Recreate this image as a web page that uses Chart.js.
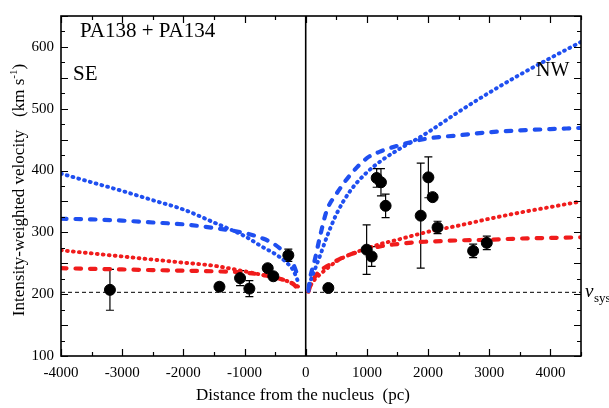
<!DOCTYPE html>
<html>
<head>
<meta charset="utf-8">
<script src="https://cdn.jsdelivr.net/npm/chart.js@4"></script>
<style>
  body { margin: 0; background: #fff; }
  #wrap { width: 609px; height: 408px; }
</style>
</head>
<body>
<div id="wrap"><canvas id="chart" width="609" height="408"></canvas></div>
<script>
// ticks
const xTicks = [-4000, -3000, -2000, -1000, 0, 1000, 2000, 3000, 4000];
const yTicks = [100, 200, 300, 400, 500, 600];

// observed points (pc, km/s) and their errors
const obsX   = [-3200, -1410, -1073, -921, -621, -529, -284, 370, 996, 1078, 1160, 1230, 1306, 1880, 2005, 2075, 2155, 2737, 2960];
const obsY   = [207, 212, 226, 209, 242, 229, 263, 210, 272, 261, 388, 381, 343, 327, 389, 357, 308, 270, 283];
const obsErr = [33, 6, 12, 13, 4, 0, 10, 0, 40, 16, 15, 22, 19, 85, 33, 4, 10, 11, 11];

const vsys = 203;

// model curves, SE side (negative distance)
const seX        = [-4000, -3500, -3000, -2500, -2000, -1500, -1000, -700, -500, -300, -200, -120];
const seBlueDot  = [395, 381, 367, 352, 337, 316, 294, 276, 265, 250, 238, 219];
const seBlueDash = [322, 321, 319, 316, 313, 307, 299, 290, 280, 262, 248, 226];
const seRedDot   = [271, 266, 261, 256, 251, 246, 237, 231, 227, 221, 217, 212];
const seRedDash  = [242, 241, 240, 239, 238, 237, 235, 231, 227, 221, 216, 208];

// model curves, NW side (positive distance)
const nwX        = [45, 70, 150, 233, 343, 500, 720, 1000, 1250, 1500, 1800, 2000, 2500, 3000, 3500, 4000, 4500];
const nwBlueDot  = [205, 218, 240, 262, 292, 329, 366, 397, 417, 433, 450, 462, 495, 526, 555, 582, 608];
const nwBlueDash = [208, 225, 256, 293, 335, 362, 392, 420, 432, 440, 448, 452, 457, 462, 465, 467, 469];
const nwRedDot   = [206, 212, 224, 232, 241, 253, 264, 274, 282, 288, 296, 301, 311, 322, 332, 341, 350];
const nwRedDash  = [204, 212, 228, 238, 245, 254, 264, 272, 278, 281, 284, 285, 287, 288, 290, 291, 292];

const BLUE = '#1f4ff0';
const RED = '#f01c1c';
const FONT = 'Liberation Serif';

const pts = (xs, ys) => xs.map((x, i) => ({ x: x, y: ys[i] }));

function curve(xs, ys, color, dotted) {
  return {
    data: pts(xs, ys),
    showLine: true,
    pointRadius: 0,
    borderColor: color,
    borderWidth: dotted ? 3.9 : 4.2,
    borderDash: dotted ? [0.8, 5.2] : [5.5, 9],
    borderCapStyle: 'round',
    cubicInterpolationMode: 'monotone',
    fill: false
  };
}

// error bars, frame, inward ticks and labels
const decor = {
  id: 'decor',
  beforeDatasetsDraw(chart) {
    const ctx = chart.ctx, xs = chart.scales.x, ys = chart.scales.y;
    ctx.save();
    ctx.strokeStyle = '#000';
    ctx.lineWidth = 1.2;
    obsX.forEach((x, i) => {
      if (!obsErr[i]) return;
      const px = xs.getPixelForValue(x);
      const top = ys.getPixelForValue(obsY[i] + obsErr[i]);
      const bot = ys.getPixelForValue(obsY[i] - obsErr[i]);
      ctx.beginPath();
      ctx.moveTo(px, top); ctx.lineTo(px, bot);
      ctx.moveTo(px - 4, top); ctx.lineTo(px + 4, top);
      ctx.moveTo(px - 4, bot); ctx.lineTo(px + 4, bot);
      ctx.stroke();
    });
    ctx.restore();
  },
  afterDraw(chart) {
    const ctx = chart.ctx, a = chart.chartArea, xs = chart.scales.x, ys = chart.scales.y;
    ctx.save();
    ctx.strokeStyle = '#000';
    ctx.lineWidth = 1.6;
    ctx.strokeRect(a.left, a.top, a.right - a.left, a.bottom - a.top);
    ctx.lineWidth = 1.2;
    ctx.beginPath();
    for (let v = -4000; v <= 4500; v += 500) {
      const px = Math.round(xs.getPixelForValue(v)) + 0.5;
      const len = v % 1000 === 0 ? 7 : 4;
      ctx.moveTo(px, a.bottom); ctx.lineTo(px, a.bottom - len);
      ctx.moveTo(px, a.top); ctx.lineTo(px, a.top + len);
    }
    for (let v = 100; v <= 650; v += 25) {
      const py = Math.round(ys.getPixelForValue(v)) + 0.5;
      const len = v % 50 === 0 ? 7 : 4;
      ctx.moveTo(a.left, py); ctx.lineTo(a.left + len, py);
      ctx.moveTo(a.right, py); ctx.lineTo(a.right - len, py);
    }
    ctx.stroke();

    ctx.fillStyle = '#000';
    ctx.textBaseline = 'alphabetic';
    ctx.textAlign = 'left';
    ctx.font = '21px ' + FONT;
    ctx.fillText('PA138 + PA134', 80, 37);
    ctx.fillText('SE', 73, 80);
    ctx.font = '20px ' + FONT;
    ctx.fillText('NW', 536, 76);

    // v_sys label
    const vy = ys.getPixelForValue(vsys);
    ctx.font = 'italic 19px ' + FONT;
    ctx.fillText('v', 585, vy + 5);
    ctx.font = '13px ' + FONT;
    ctx.fillText('sys', 594, vy + 10);

    // x title
    ctx.font = '17px ' + FONT;
    ctx.textAlign = 'center';
    ctx.fillText('Distance from the nucleus  (pc)', 303, 400);

    // y title, rotated, with superscript
    const p1 = 'Intensity-weighted velocity   (km s', p2 = '-1', p3 = ')';
    ctx.font = '17px ' + FONT;
    const w1 = ctx.measureText(p1).width, w3 = ctx.measureText(p3).width;
    ctx.font = '11px ' + FONT;
    const w2 = ctx.measureText(p2).width;
    const total = w1 + w2 + w3;
    ctx.translate(24, 190);
    ctx.rotate(-Math.PI / 2);
    ctx.textAlign = 'left';
    let x0 = -total / 2;
    ctx.font = '17px ' + FONT;
    ctx.fillText(p1, x0, 0);
    ctx.font = '11px ' + FONT;
    ctx.fillText(p2, x0 + w1, -7);
    ctx.font = '17px ' + FONT;
    ctx.fillText(p3, x0 + w1 + w2, 0);
    ctx.restore();
  }
};

new Chart(document.getElementById('chart'), {
  type: 'scatter',
  data: {
    datasets: [
      {
        data: pts(obsX, obsY),
        pointRadius: 5.5,
        pointBackgroundColor: '#000',
        pointBorderColor: '#000',
        showLine: false
      },
      curve(seX, seBlueDot, BLUE, true),
      curve(seX, seBlueDash, BLUE, false),
      curve(seX, seRedDot, RED, true),
      curve(seX, seRedDash, RED, false),
      curve(nwX, nwBlueDot, BLUE, true),
      curve(nwX, nwBlueDash, BLUE, false),
      curve(nwX, nwRedDot, RED, true),
      curve(nwX, nwRedDash, RED, false),
      {
        data: [{ x: 0, y: 100 }, { x: 0, y: 650 }],
        showLine: true, pointRadius: 0, borderColor: '#000', borderWidth: 1.6
      },
      {
        data: [{ x: -4000, y: vsys }, { x: 4500, y: vsys }],
        showLine: true, pointRadius: 0, borderColor: '#000', borderWidth: 1, borderDash: [4, 3]
      }
    ]
  },
  options: {
    responsive: false,
    animation: false,
    devicePixelRatio: 1,
    layout: { padding: { top: 7, right: 28, left: 0, bottom: 0 } },
    plugins: { legend: { display: false }, tooltip: { enabled: false } },
    scales: {
      x: {
        type: 'linear', min: -4000, max: 4500,
        afterBuildTicks: s => { s.ticks = xTicks.map(v => ({ value: v })); },
        afterFit: s => { s.height = 52; },
        ticks: { color: '#000', font: { family: FONT, size: 15 }, padding: 8, maxRotation: 0, callback: v => String(v) },
        grid: { display: false, drawTicks: false },
        border: { display: false }
      },
      y: {
        type: 'linear', min: 100, max: 650,
        afterBuildTicks: s => { s.ticks = yTicks.map(v => ({ value: v })); },
        afterFit: s => { s.width = 61; },
        ticks: { color: '#000', font: { family: FONT, size: 15 }, padding: 7, callback: v => String(v) },
        grid: { display: false, drawTicks: false },
        border: { display: false }
      }
    }
  },
  plugins: [decor]
});
</script>
</body>
</html>
